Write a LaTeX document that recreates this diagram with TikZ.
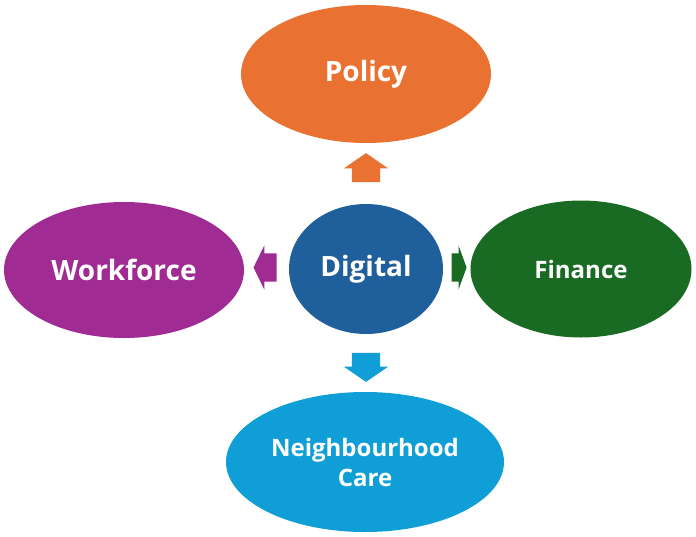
\documentclass[tikz,border=0pt]{standalone}
\usepackage{fontspec}
\setmainfont{Open Sans}
\usetikzlibrary{shapes.geometric,shapes.arrows}
\definecolor{policyc}{HTML}{E97132}
\definecolor{digitalc}{HTML}{1F5F9C}
\definecolor{workc}{HTML}{A02B93}
\definecolor{financec}{HTML}{196B24}
\definecolor{carec}{HTML}{0F9ED5}
\begin{document}
\begin{tikzpicture}[x=1pt,y=-1pt,
  area/.style={ellipse,inner sep=0pt,text=white,font=\bfseries\fontsize{28}{32}\selectfont},
  blockarrow/.style={single arrow,draw=none,inner xsep=0pt,inner ysep=14pt,single arrow head extend=8pt}]
\useasboundingbox (0,0) rectangle (696,536);
\node[area,fill=policyc,minimum width=250pt,minimum height=138pt] (policy) at (366,74) {Policy};
\node[area,fill=digitalc,minimum width=154pt,minimum height=130pt] (digital) at (366,269) {Digital};
\node[area,fill=workc,minimum width=240pt,minimum height=136pt] (workforce) at (124,270) {Workforce};
\node[area,fill=financec,minimum width=221pt,minimum height=137pt,font=\bfseries\fontsize{24}{30}\selectfont] (finance) at (581,269) {Finance};
\node[area,fill=carec,minimum width=278pt,minimum height=140pt,align=center,font=\bfseries\fontsize{24}{30}\selectfont] (care) at (365,462) {Neighbourhood\\Care};
\node[blockarrow,fill=policyc,minimum height=29pt,single arrow tip angle=111,rotate=90] (up) at (366,172.5) {};
\node[blockarrow,fill=carec,minimum height=29pt,single arrow tip angle=111,rotate=270] (down) at (366,362.5) {};
\node[blockarrow,fill=workc,minimum height=23pt,single arrow tip angle=128,rotate=180] (left) at (268.5,267.5) {};
\node[blockarrow,fill=financec,minimum height=15pt,single arrow tip angle=140] (right) at (456.5,267.5) {};
\end{tikzpicture}
\end{document}
